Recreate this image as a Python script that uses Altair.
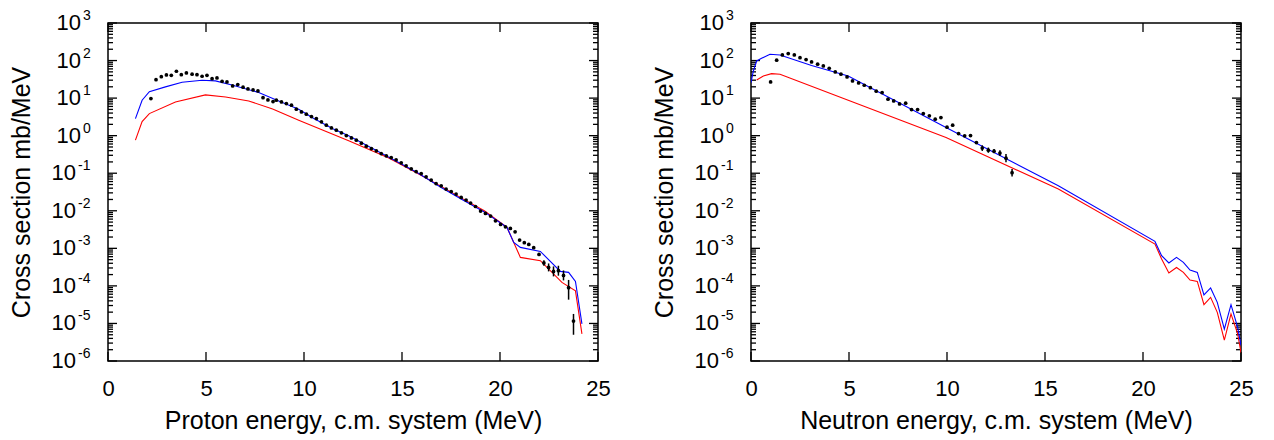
import altair as alt
import pandas as pd

FONT = "Liberation Sans"
W, H = 490, 338

X_TICKS = [0, 5, 10, 15, 20, 25]
Y_DECADES = [1e-6, 1e-5, 1e-4, 1e-3, 1e-2, 1e-1, 1e0, 1e1, 1e2, 1e3]
Y_EXPONENTS = ["-6", "-5", "-4", "-3", "-2", "-1", "0", "1", "2", "3"]
Y_MINOR = [m * d for d in Y_DECADES[:-1] for m in range(2, 10)]

# ---------------- Proton panel ----------------
P_BLUE_E = [1.40, 1.74, 2.11, 2.93, 3.78, 4.80, 5.48, 6.32, 7.69, 8.71, 9.73, 10.5, 11.5,
            12.28, 13.5, 14.5, 15.77, 17.0, 18.06, 19.2, 20.36, 20.70, 21.04, 22.06,
            23.08, 23.50, 23.85, 24.18]
P_BLUE_S = [2.85, 8.8, 14.9, 19.9, 26.5, 29.9, 28.7, 22.4, 14.1, 8.43, 5.07, 2.88, 1.51,
            1.0, 0.457, 0.240, 0.104, 0.0417, 0.0200, 0.00933, 0.0036, 0.00144, 0.00106, 0.000828,
            0.000243, 0.000229, 0.000132, 9.7e-6]
P_RED_E = [1.40, 1.74, 2.11, 3.44, 4.97, 6.0, 7.18, 8.4, 9.73, 12.28, 14.30, 15.5, 17.0, 18.06,
           19.2, 20.36, 21.04, 22.06, 23.16, 23.85, 24.18]
P_RED_S = [0.76, 2.37, 3.87, 7.9, 12.2, 10.7, 8.4, 5.1, 2.58, 0.728, 0.257, 0.120, 0.0447, 0.0214,
           0.0100, 0.0036, 0.000573, 0.000468, 0.000124, 7.4e-5, 5.3e-6]
P_PTS_E = [2.19, 2.45, 2.72, 2.98, 3.23, 3.49, 3.74, 4.00, 4.29, 4.54, 4.80, 5.05, 5.31, 5.56,
           5.82, 6.07, 6.36, 6.62, 6.89, 7.14, 7.40, 7.65, 7.91, 8.16, 8.42, 8.59, 8.85, 9.10,
           9.36, 9.61, 9.87, 10.12, 10.38, 10.63, 10.89, 11.14, 11.40, 11.65, 11.91, 12.16,
           12.42, 12.67, 12.93, 13.18, 13.44, 13.69, 13.94, 14.20, 14.45, 14.70, 14.96, 15.21,
           15.47, 15.72, 15.98, 16.23, 16.49, 16.74, 17.00, 17.25, 17.51, 17.76, 18.02, 18.27,
           18.50, 18.75, 19.01, 19.26, 19.52, 19.77, 20.03, 20.28, 20.53, 20.77, 21.00, 21.24,
           21.47, 21.72, 21.99, 22.24, 22.48, 22.73, 22.98, 23.24, 23.50, 23.75]
P_PTS_S = [9.7, 31.0, 37.3, 41.4, 40.6, 51.9, 42.2, 46.8, 43.2, 42.2, 38.2, 40.6, 33.0, 34.5,
           28.1, 27.0, 21.1, 22.9, 19.5, 17.6, 16.5, 15.5, 10.3, 8.95, 8.07, 8.8, 7.92, 7.14,
           6.47, 5.07, 4.30, 3.73, 3.22, 2.85, 2.33, 1.90, 1.61, 1.40, 1.19, 1.007,
           0.873, 0.758, 0.632, 0.526, 0.454, 0.394, 0.334, 0.290, 0.262, 0.227, 0.189, 0.157,
           0.131, 0.111, 0.0982, 0.0802, 0.0655, 0.0532, 0.0462, 0.0378, 0.0326, 0.0278, 0.0226, 0.0193,
           0.0160, 0.0130, 0.00981, 0.00848, 0.00723, 0.00542, 0.00432, 0.00375, 0.00338, 0.00276,
           0.00166, 0.00141, 0.00127, 0.00104, 0.000689, 0.000407, 0.000310, 0.000243, 0.000254,
           0.000190, 8.95e-5, 1.16e-5]
P_ERR_E = [21.99, 22.24, 22.48, 22.73, 22.98, 23.24, 23.50, 23.75]
P_ERR_LO = [0.000630, 0.000346, 0.000243, 0.000179, 0.000187, 0.000140, 4.3e-5, 5.0e-6]
P_ERR_HI = [0.000755, 0.000478, 0.000396, 0.000330, 0.000344, 0.000258, 1.44e-4, 1.79e-5]

# ---------------- Neutron panel ----------------
N_BLUE_E = [0.00, 0.12, 0.29, 0.54, 0.97, 1.48, 3.09, 4.96, 9.95, 15.68, 20.61, 20.95, 21.32,
            21.71, 22.06, 22.40, 22.77, 23.11, 23.45, 23.79, 24.15, 24.49, 24.83, 25.0]
N_BLUE_S = [25.8, 52.8, 97.5, 115, 147, 141, 74, 38.9, 1.64, 0.0462, 0.00153, 0.000635, 0.000407,
            0.000573, 0.000422, 0.000265, 0.000229, 5.73e-5, 8.8e-5, 3.64e-5, 7.1e-6, 3.16e-5,
            7.9e-6, 2.6e-6]
N_RED_E = [0.29, 0.63, 1.05, 1.48, 4.96, 9.95, 15.68, 20.61, 20.95, 21.32, 21.71, 22.06, 22.40,
           22.77, 23.11, 23.45, 23.79, 24.15, 24.49, 24.83, 25.0]
N_RED_S = [30.5, 38.9, 44.9, 43.2, 8.8, 0.889, 0.0378, 0.0013, 0.000519, 0.00022, 0.00031,
           0.000229, 0.000143, 0.000132, 3.16e-5, 4.94e-5, 1.97e-5, 3.6e-6, 1.79e-5, 5.3e-6, 1.66e-6]
N_PTS_E = [1.00, 1.31, 1.60, 1.90, 2.21, 2.50, 2.81, 3.09, 3.40, 3.69, 3.99, 4.30, 4.59, 4.90,
           5.18, 5.49, 5.78, 6.09, 6.39, 6.69, 6.99, 7.28, 7.58, 7.89, 8.19, 8.50, 8.79, 9.10,
           9.40, 9.69, 10.00, 10.29, 10.59, 10.90, 11.20, 11.50, 11.80, 12.11, 12.40, 12.70,
           13.01, 13.32]
N_PTS_S = [27.0, 102, 141, 153, 141, 119, 106, 91.8, 79.8, 71.8, 62.4, 49.8, 43.2, 36.6,
           28.7, 25.4, 22.0, 19.0, 15.3, 14.0, 9.35, 8.43, 7.02, 7.32, 4.94, 4.94, 3.89, 3.37,
           2.75, 3.03, 1.68, 1.90, 1.14, 0.989, 1.007, 0.655, 0.466, 0.411, 0.387, 0.343,
           0.252, 0.103]
N_ERR_E = [11.80, 12.11, 12.40, 12.70, 13.01, 13.32]
N_ERR_LO = [0.392, 0.350, 0.339, 0.288, 0.196, 0.0815]
N_ERR_HI = [0.553, 0.483, 0.443, 0.407, 0.325, 0.129]


def panel(xtitle, be, bs, re_, rs, pe, ps, ee, elo, ehi):
    xs = alt.X("E:Q", scale=alt.Scale(domain=[0, 25], nice=False, zero=False),
               axis=alt.Axis(values=X_TICKS, title=xtitle, ticks=False, tickSize=0, domain=False,
                             grid=False, labelFlush=False, labelFontSize=22, labelPadding=17,
                             titleFontSize=25, titlePadding=9, titleFontWeight="normal"))

    def ys(field):
        return alt.Y(f"{field}:Q", scale=alt.Scale(type="log", domain=[1e-6, 1e3], nice=False),
                     axis=alt.Axis(title="Cross section mb/MeV", labels=False, ticks=False,
                                   tickSize=0, domain=False, grid=False, titleFontSize=25,
                                   titlePadding=74, titleFontWeight="normal"))

    minor = pd.DataFrame({"S": Y_MINOR})
    major = pd.DataFrame({"S": Y_DECADES})
    xt = pd.DataFrame({"E": X_TICKS})
    labs = pd.DataFrame({"S": Y_DECADES, "base": ["10"] * len(Y_DECADES), "exp": Y_EXPONENTS})
    labs["neg"] = [1 if e.startswith("-") else 0 for e in Y_EXPONENTS]

    tick = dict(color="black", strokeWidth=1.3)
    layers = [
        alt.Chart(minor).mark_rule(**tick).encode(y=ys("S"), x=alt.value(0), x2=alt.value(5)),
        alt.Chart(minor).mark_rule(**tick).encode(y=ys("S"), x=alt.value(W - 5), x2=alt.value(W)),
        alt.Chart(major).mark_rule(**tick).encode(y=ys("S"), x=alt.value(0), x2=alt.value(9)),
        alt.Chart(major).mark_rule(**tick).encode(y=ys("S"), x=alt.value(W - 9), x2=alt.value(W)),
        alt.Chart(xt).mark_rule(**tick).encode(x=xs, y=alt.value(H), y2=alt.value(H - 9)),
        alt.Chart(xt).mark_rule(**tick).encode(x=xs, y=alt.value(0), y2=alt.value(9)),
        alt.Chart(pd.DataFrame({"E": re_, "S": rs})).mark_line(color="#ff0000", strokeWidth=1.1, clip=True)
        .encode(x=xs, y=ys("S")),
        alt.Chart(pd.DataFrame({"E": be, "S": bs})).mark_line(color="#0000ff", strokeWidth=1.1, clip=True)
        .encode(x=xs, y=ys("S")),
        alt.Chart(pd.DataFrame({"E": ee, "lo": elo, "hi": ehi})).mark_rule(color="black", strokeWidth=1.5)
        .encode(x=xs, y=ys("lo"), y2="hi"),
        alt.Chart(pd.DataFrame({"E": pe, "S": ps})).mark_circle(color="black", size=14, opacity=1)
        .encode(x=xs, y=ys("S")),
    ]
    for neg, xb in [(0, -27), (1, -32)]:
        layers.append(
            alt.Chart(labs).transform_filter(f"datum.neg == {neg}")
            .mark_text(align="right", baseline="middle", fontSize=22, font=FONT, color="black")
            .encode(y=ys("S"), x=alt.value(xb), text="base:N"))
        layers.append(
            alt.Chart(labs).transform_filter(f"datum.neg == {neg}")
            .mark_text(align="left", baseline="middle", fontSize=14, font=FONT, color="black", dy=-7)
            .encode(y=ys("S"), x=alt.value(xb + 2), text="exp:N"))
    return alt.layer(*layers).properties(width=W, height=H)


left = panel("Proton energy, c.m. system (MeV)", P_BLUE_E, P_BLUE_S, P_RED_E, P_RED_S,
             P_PTS_E, P_PTS_S, P_ERR_E, P_ERR_LO, P_ERR_HI)
right = panel("Neutron energy, c.m. system (MeV)", N_BLUE_E, N_BLUE_S, N_RED_E, N_RED_S,
              N_PTS_E, N_PTS_S, N_ERR_E, N_ERR_LO, N_ERR_HI)

chart = (
    alt.hconcat(left, right, spacing=40)
    .properties(padding=0)
    .configure_view(stroke="black", strokeWidth=1.5)
    .configure_axis(labelFont=FONT, titleFont=FONT, labelColor="black", titleColor="black")
)

chart.save("out.html", embed_options={"renderer": "svg", "actions": False})
